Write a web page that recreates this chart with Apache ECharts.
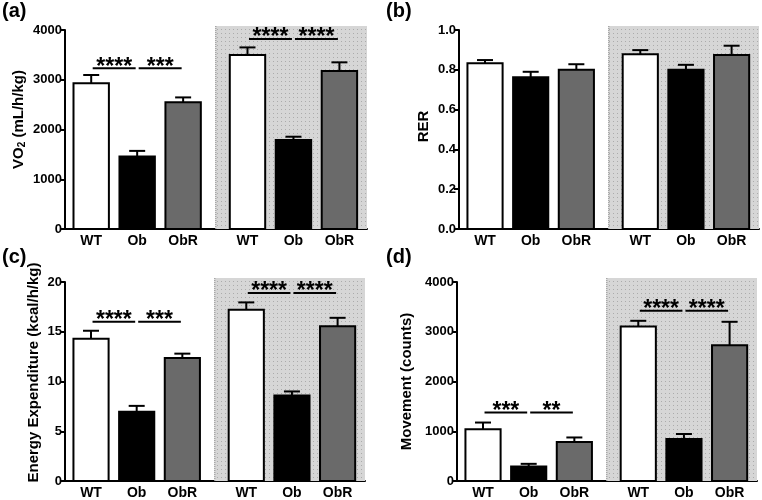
<!DOCTYPE html>
<html>
<head>
<meta charset="utf-8">
<script src="https://cdn.jsdelivr.net/npm/echarts@6/dist/echarts.min.js"></script>
<style>
html,body{margin:0;padding:0;background:#fff;}
#chart{width:762px;height:500px;}
</style>
</head>
<body>
<div id="chart"></div>
<script>
// ---------------- data ----------------
const categories = ['WT', 'Ob', 'ObR', 'WT', 'Ob', 'ObR'];

const vo2Mean = [2930, 1455, 2550, 3495, 1790, 3175];
const vo2Err  = [165, 115, 95, 155, 65, 175];

const rerMean = [0.833, 0.762, 0.800, 0.878, 0.800, 0.874];
const rerErr  = [0.016, 0.028, 0.028, 0.021, 0.025, 0.047];

const eeMean = [14.3, 6.95, 12.35, 17.2, 8.6, 15.55];
const eeErr  = [0.8, 0.6, 0.45, 0.75, 0.4, 0.85];

const moveMean = [1040, 290, 785, 3105, 845, 2730];
const moveErr  = [135, 55, 90, 115, 100, 470];

// significance: [fromBar, toBar, level], labels
const vo2Sig = [[0, 1, 3230], [1, 2, 3230], [3, 4, 3820], [4, 5, 3820]];
const vo2SigLabels = ['****', '***', '****', '****'];
const rerSig = [];
const rerSigLabels = [];
const eeSig = [[0, 1, 16.0], [1, 2, 16.0], [3, 4, 18.9], [4, 5, 18.9]];
const eeSigLabels = ['****', '***', '****', '****'];
const moveSig = [[0, 1, 1375], [1, 2, 1375], [3, 4, 3420], [4, 5, 3420]];
const moveSigLabels = ['***', '**', '****', '****'];

const vo2Ticks = [0, 4000, 1000];
const rerTicks = [0, 1.0, 0.2];
const eeTicks = [0, 20, 5];
const moveTicks = [0, 4000, 1000];

// ---------------- layout ----------------
const xPos = [1, 2, 3, 4.4, 5.4, 6.4];
const X_MIN = 0.43, X_MAX = 7.0, SHADE_START = 3.7;
const BAR_W = 0.77;
const FONT = '"Liberation Sans", Arial, Helvetica, sans-serif';
const fills = ['#ffffff', '#000000', '#6a6a6a', '#ffffff', '#000000', '#6a6a6a'];

function makePattern() {
  const c = document.createElement('canvas');
  c.width = 4; c.height = 4;
  const g = c.getContext('2d');
  g.fillStyle = '#d6d6d6';
  g.fillRect(0, 0, 4, 4);
  g.fillStyle = '#ababab';
  g.fillRect(1, 1, 1, 1);
  return c;
}
const pattern = makePattern();

const panels = [
  { mean: vo2Mean, err: vo2Err, sig: vo2Sig, sigLabels: vo2SigLabels, ticks: vo2Ticks,
    name: '{a|VO}{s|2}{a| (mL/h/kg)}', nameGap: 38, namePad: [0, 0, 0, 20],
    grid: { left: 65, top: 30, width: 302, height: 199 }, fmt: v => v },
  { mean: rerMean, err: rerErr, sig: rerSig, sigLabels: rerSigLabels, ticks: rerTicks,
    name: '{a|RER}', nameGap: 28, namePad: [0, 0, 0, 6],
    grid: { left: 459, top: 30, width: 300, height: 199 }, fmt: v => v.toFixed(1) },
  { mean: eeMean, err: eeErr, sig: eeSig, sigLabels: eeSigLabels, ticks: eeTicks,
    name: '{a|Energy Expenditure (kcal/h/kg)}', nameGap: 24, namePad: [0, 0, 0, 18],
    grid: { left: 65, top: 282, width: 300, height: 199 }, fmt: v => v },
  { mean: moveMean, err: moveErr, sig: moveSig, sigLabels: moveSigLabels, ticks: moveTicks,
    name: '{a|Movement (counts)}', nameGap: 43, namePad: [0, 0, 0, 0],
    grid: { left: 457, top: 282, width: 300, height: 199 }, fmt: v => v }
];

const grids = [], xAxes = [], yAxes = [], series = [];

panels.forEach((p, k) => {
  grids.push(p.grid);
  xAxes.push({
    type: 'value', gridIndex: k, min: X_MIN, max: X_MAX,
    axisLine: { show: true, onZero: true, lineStyle: { color: '#000', width: 2 } },
    axisTick: { show: false },
    splitLine: { show: false },
    axisLabel: {
      show: true, customValues: xPos, margin: 5,
      color: '#000', fontSize: 14, fontWeight: 'bold', fontFamily: FONT,
      formatter: function (v) {
        for (let i = 0; i < xPos.length; i++) if (Math.abs(xPos[i] - v) < 1e-6) return categories[i];
        return '';
      }
    }
  });
  yAxes.push({
    type: 'value', gridIndex: k, min: p.ticks[0], max: p.ticks[1], interval: p.ticks[2],
    name: p.name, nameLocation: 'middle', nameGap: p.nameGap,
    nameTextStyle: {
      padding: p.namePad,
      rich: {
        a: { fontSize: 15, fontWeight: 'bold', color: '#000', fontFamily: FONT },
        s: { fontSize: 10, fontWeight: 'bold', color: '#000', fontFamily: FONT, verticalAlign: 'bottom', padding: [7, 0, 0, 0] }
      }
    },
    axisLine: { show: true, lineStyle: { color: '#000', width: 2 } },
    axisTick: { show: true, length: 5, lineStyle: { color: '#000', width: 2 } },
    splitLine: { show: false },
    axisLabel: { color: '#000', fontSize: 13, fontWeight: 'bold', fontFamily: FONT, margin: 3, formatter: p.fmt }
  });

  // shaded (dark phase) background
  series.push({
    type: 'custom', xAxisIndex: k, yAxisIndex: k, z: 1, silent: true,
    data: [[SHADE_START, p.ticks[1]]],
    renderItem: function (params, api) {
      const a = api.coord([api.value(0), api.value(1)]);
      const b = api.coord([X_MAX, 0]);
      const top = a[1] - 4;
      return {
        type: 'group', children: [
          { type: 'rect', shape: { x: a[0], y: top, width: b[0] - a[0], height: b[1] - top },
            style: { fill: { image: pattern, repeat: 'repeat' } } },
          { type: 'line', shape: { x1: a[0] + 0.5, y1: top, x2: a[0] + 0.5, y2: b[1] },
            style: { stroke: '#8c8c8c', lineWidth: 1, lineDash: [1, 1] } }
        ]
      };
    }
  });

  // bars + error bars
  series.push({
    type: 'custom', xAxisIndex: k, yAxisIndex: k, z: 3, silent: true,
    data: p.mean.map((v, i) => [xPos[i], v, p.err[i]]),
    renderItem: function (params, api) {
      const x = api.value(0), y = api.value(1), e = api.value(2);
      const base = api.coord([x, 0]);
      const top = api.coord([x, y]);
      const et = api.coord([x, y + e]);
      const w = api.size([BAR_W, 0])[0];
      return {
        type: 'group', children: [
          { type: 'line', shape: { x1: top[0], y1: top[1], x2: top[0], y2: et[1] },
            style: { stroke: '#000', lineWidth: 2 } },
          { type: 'line', shape: { x1: top[0] - 8, y1: et[1], x2: top[0] + 8, y2: et[1] },
            style: { stroke: '#000', lineWidth: 2 } },
          { type: 'rect', shape: { x: base[0] - w / 2, y: top[1], width: w, height: base[1] - top[1] },
            style: { fill: fills[params.dataIndex], stroke: '#000', lineWidth: 2 } }
        ]
      };
    }
  });

  // significance lines
  if (p.sig.length) {
    series.push({
      type: 'custom', xAxisIndex: k, yAxisIndex: k, z: 4, silent: true,
      data: p.sig.map(s => [xPos[s[0]], xPos[s[1]], s[2]]),
      renderItem: function (params, api) {
        const a = api.coord([api.value(0), api.value(2)]);
        const b = api.coord([api.value(1), api.value(2)]);
        return {
          type: 'group', children: [
            { type: 'line', shape: { x1: a[0] + 1.5, y1: a[1], x2: b[0] - 1.5, y2: b[1] },
              style: { stroke: '#000', lineWidth: 2 } },
            { type: 'text', x: (a[0] + b[0]) / 2, y: a[1] - 1,
              style: { text: p.sigLabels[params.dataIndex], fill: '#000',
                font: 'bold 23px ' + FONT, align: 'center', verticalAlign: 'middle' } }
          ]
        };
      }
    });
  }
});

const chart = echarts.init(document.getElementById('chart'), null, { renderer: 'canvas' });
chart.setOption({
  animation: false,
  backgroundColor: '#ffffff',
  textStyle: { fontFamily: FONT },
  title: [
    { text: '(a)', left: 2, top: 1, padding: 0, textStyle: { fontSize: 20, fontWeight: 'bold', color: '#000', fontFamily: FONT } },
    { text: '(b)', left: 386, top: 1, padding: 0, textStyle: { fontSize: 20, fontWeight: 'bold', color: '#000', fontFamily: FONT } },
    { text: '(c)', left: 2, top: 247, padding: 0, textStyle: { fontSize: 20, fontWeight: 'bold', color: '#000', fontFamily: FONT } },
    { text: '(d)', left: 386, top: 247, padding: 0, textStyle: { fontSize: 20, fontWeight: 'bold', color: '#000', fontFamily: FONT } }
  ],
  grid: grids,
  xAxis: xAxes,
  yAxis: yAxes,
  series: series
});
</script>
</body>
</html>
